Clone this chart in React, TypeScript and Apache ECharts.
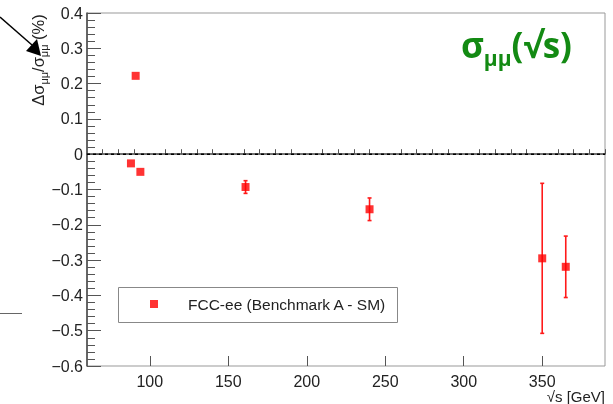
import React, { useEffect, useRef } from "react";
import * as echarts from "echarts";

const energies = [88, 91, 94, 161, 240, 350, 365];
const deltas = [-0.026, 0.222, -0.05, -0.093, -0.156, -0.295, -0.319];
const errors = [0, 0, 0, 0.018, 0.032, 0.2125, 0.087];
const xMajorTicks = [100, 150, 200, 250, 300, 350];
const xMinorTicks = [70, 80, 90, 110, 120, 130, 140, 160, 170, 180, 190, 210, 220, 230, 240, 260, 270, 280, 290, 310, 320, 330, 340, 360, 370, 380, 390];
const xRange = [60, 390];
const zeroLevel = 0;
const seriesName = "FCC-ee (Benchmark A - SM)";

const FONT = "'Liberation Sans', Arial, Helvetica, sans-serif";
const TFONT = "'Open Sans', 'DejaVu Sans', sans-serif";

export default function App() {
  const ref = useRef<HTMLDivElement>(null);
  useEffect(() => {
    if (!ref.current) return;
    const chart = echarts.init(ref.current, null, { renderer: "svg" });
    const points = energies.map((e, i) => [e, deltas[i]]);
    const bars = energies.map((e, i) => [e, deltas[i], errors[i]]);
    const fmtY = (v: number) => {
      const r = Math.round(v * 10) / 10;
      if (Math.abs(r) < 1e-9) return "0";
      const s = Math.abs(r).toFixed(1);
      return r < 0 ? "\u2212" + s : s;
    };
    chart.setOption({
      animation: false,
      grid: { left: 87, right: 8, top: 13, bottom: 38, show: true, borderColor: "#999", borderWidth: 1 },
      xAxis: [
        {
          type: "value", min: xRange[0], max: xRange[1],
          axisLine: { show: true, lineStyle: { color: "#444", width: 1.5 } },
          axisTick: { show: true, inside: true, length: 5, customValues: xMinorTicks, lineStyle: { color: "#555" } },
          axisLabel: { customValues: xMajorTicks, fontSize: 16, fontFamily: FONT, color: "#222", margin: 7 },
          splitLine: { show: false },
        },
        {
          type: "value", min: xRange[0], max: xRange[1], position: "bottom",
          axisLine: { show: false },
          axisTick: { show: true, inside: true, length: 10, customValues: xMajorTicks, lineStyle: { color: "#555" } },
          axisLabel: { show: false },
          splitLine: { show: false },
        },
      ],
      yAxis: {
        type: "value", min: -0.6, max: 0.4, interval: 0.1,
        axisLine: { show: true, lineStyle: { color: "#444", width: 1.5 } },
        axisTick: { show: true, inside: true, length: 14, lineStyle: { color: "#555" } },
        minorTick: { show: true, splitNumber: 5, length: 8, lineStyle: { color: "#555" } },
        axisLabel: { formatter: fmtY, fontSize: 16, fontFamily: FONT, color: "#222", margin: 4 },
        splitLine: { show: false },
      },
      legend: {
        left: 150, top: 296, padding: 0,
        data: [{ name: seriesName, icon: "rect" }],
        itemWidth: 8, itemHeight: 8,
        textStyle: { fontSize: 15.5, fontFamily: FONT, color: "#222", lineHeight: 16, padding: [0, 0, 0, 25] },
        selectedMode: false,
      },
      series: [
        {
          type: "line", name: "zero", xAxisIndex: 0, yAxisIndex: 0,
          data: [[xRange[0], zeroLevel], [xRange[1], zeroLevel]],
          symbol: "none", silent: true, z: 1,
          lineStyle: { color: "#000", width: 1.4, type: [3, 3] },
        },
        {
          type: "custom", name: "errors", xAxisIndex: 0, yAxisIndex: 0,
          data: bars,
          renderItem: (params: any, api: any) => {
            const x = api.value(0), y = api.value(1), e = api.value(2);
            if (!e) return null;
            const t = api.coord([x, y + e]);
            const b = api.coord([x, y - e]);
            const st = { stroke: "#ff1a1a", lineWidth: 1.6 };
            const cw = 2;
            return {
              type: "group",
              children: [
                { type: "line", shape: { x1: t[0], y1: t[1], x2: b[0], y2: b[1] }, style: st },
                { type: "line", shape: { x1: t[0] - cw, y1: t[1], x2: t[0] + cw, y2: t[1] }, style: st },
                { type: "line", shape: { x1: b[0] - cw, y1: b[1], x2: b[0] + cw, y2: b[1] }, style: st },
              ],
            };
          },
        },
        {
          type: "scatter", name: seriesName, xAxisIndex: 0, yAxisIndex: 0,
          symbol: "rect", symbolSize: 8,
          itemStyle: { color: "#ff0000" },
          data: points,
          z: 5,
        },
      ],
      graphic: [
        { type: "rect", shape: { x: 118.5, y: 287.5, width: 279, height: 35 }, style: { fill: "none", stroke: "#888", lineWidth: 1 } },
        {
          type: "text", x: 38, y: 60, rotation: Math.PI / 2,
          style: {
            text: "{m|\u0394\u03c3}{s|\u03bc\u03bc}{m|/\u03c3}{s|\u03bc\u03bc}{m| (%)}",
            align: "center", verticalAlign: "middle",
            rich: {
              m: { fontSize: 16.5, fontFamily: FONT, fill: "#222", lineHeight: 22, verticalAlign: "middle" },
              s: { fontSize: 11, fontFamily: FONT, fill: "#222", lineHeight: 22, verticalAlign: "bottom" },
            },
          },
        },
        {
          type: "text", x: 605, y: 396,
          style: { text: "\u221as [GeV]", align: "right", verticalAlign: "middle", fontSize: 15, fontFamily: FONT, fill: "#222" },
        },
        {
          type: "text", x: 461, y: 44,
          style: {
            text: "{a|\u03c3}{b|\u03bc\u03bc}{a|(\u221as)}",
            align: "left", verticalAlign: "middle",
            rich: {
              a: { fontSize: 35, fontWeight: "bold", fontFamily: TFONT, fill: "#138a13", lineHeight: 48, verticalAlign: "middle" },
              b: { fontSize: 21, fontWeight: "bold", fontFamily: TFONT, fill: "#138a13", lineHeight: 48, verticalAlign: "bottom" },
            },
          },
        },
        { type: "line", shape: { x1: 0, y1: 17, x2: 32, y2: 45 }, style: { stroke: "#000", lineWidth: 1.5 } },
        { type: "polygon", shape: { points: [[41, 56], [26, 51], [37, 39]] }, style: { fill: "#000" } },
        { type: "line", shape: { x1: 0, y1: 313.5, x2: 22, y2: 313.5 }, style: { stroke: "#666", lineWidth: 1 } },
      ],
    });
    return () => chart.dispose();
  }, []);
  return <div ref={ref} style={{ position: "fixed", left: 0, top: 0, width: 613, height: 404 }} />;
}
